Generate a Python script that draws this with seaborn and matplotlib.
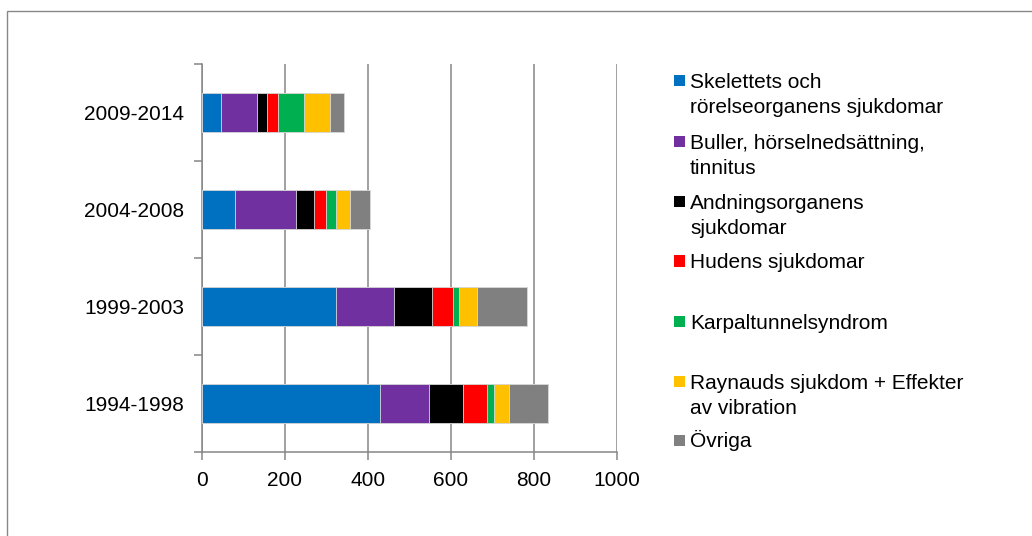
import matplotlib
matplotlib.use("Agg")
import matplotlib.pyplot as plt
import seaborn as sns
import numpy as np
import pandas as pd
from matplotlib.patches import Rectangle

periods = ["2009-2014", "2004-2008", "1999-2003", "1994-1998"]
series_names = [
    "Skelettets och\nrörelseorganens sjukdomar",
    "Buller, hörselnedsättning,\ntinnitus",
    "Andningsorganens\nsjukdomar",
    "Hudens sjukdomar",
    "Karpaltunnelsyndrom",
    "Raynauds sjukdom + Effekter\nav vibration",
    "Övriga",
]
skelett = [45, 79, 322, 430]
buller = [88, 147, 141, 117]
andning = [23, 43, 91, 81]
hud = [26, 29, 52, 58]
karpal = [63, 26, 14, 18]
raynaud = [63, 32, 42, 36]
ovriga = [33, 50, 121, 93]
series_values = [skelett, buller, andning, hud, karpal, raynaud, ovriga]
colors = ["#0070C0", "#7030A0", "#000000", "#FF0000", "#00B050", "#FFC000", "#808080"]
xticks = [0, 200, 400, 600, 800, 1000]

sns.set_theme(style="white")
plt.rcParams["font.family"] = ["Liberation Sans", "DejaVu Sans"]

W, H = 1032, 536
fig = plt.figure(figsize=(W / 100, H / 100), dpi=100)
ax = fig.add_axes([202 / W, 1 - 452 / H, (617 - 202) / W, (452 - 64) / H])

cum = np.cumsum(np.array(series_values, dtype=float), axis=0)
for i in range(len(series_values) - 1, -1, -1):
    df = pd.DataFrame({"period": periods, "value": cum[i]})
    sns.barplot(data=df, x="value", y="period", orient="h", color=colors[i],
                saturation=1, width=0.4, edgecolor="#d9d9d9", linewidth=0.6,
                ax=ax, zorder=3)

ax.set_xlim(0, 1000)
ax.set_ylim(3.5, -0.5)
ax.set_xticks(xticks)
ax.set_xticklabels([str(t) for t in xticks])
ax.set_xlabel("")
ax.set_ylabel("")
ax.xaxis.grid(True, color="#868686", linewidth=1.1, zorder=0)
ax.yaxis.grid(False)
ax.set_axisbelow(True)

for s in ["top", "right"]:
    ax.spines[s].set_visible(False)
for s in ["left", "bottom"]:
    ax.spines[s].set_visible(True)
    ax.spines[s].set_color("#868686")
    ax.spines[s].set_linewidth(1.1)

# y ticks: labels at category centers, tick marks at boundaries
ax.set_yticks(range(len(periods)))
ax.set_yticklabels(periods)
ax.set_yticks(np.arange(-0.5, len(periods), 1.0), minor=True)
ax.tick_params(axis="y", which="major", length=0, pad=13, labelsize=15, colors="black")
ax.tick_params(axis="y", which="minor", length=6, width=1.1, color="#868686", left=True)
ax.tick_params(axis="x", which="major", length=6, width=1.1, color="#868686",
               direction="out", bottom=True, pad=8, labelsize=15, labelcolor="black")

# legend drawn manually (marker aligned with first line, as in reference)
marker_y = [80.7, 141.7, 201.7, 261.0, 321.7, 381.7, 440.0]
line_step = 25.0
for name, col, my in zip(series_names, colors, marker_y):
    fig.patches.append(Rectangle((674 / W, 1 - (my + 5.5) / H), 11 / W, 11 / H,
                                 transform=fig.transFigure, facecolor=col,
                                 edgecolor="none", figure=fig))
    for k, line in enumerate(name.split("\n")):
        fig.text(690 / W, 1 - (my + 7 + k * line_step) / H, line, fontsize=15,
                 va="baseline", ha="left", color="black")

# outer chart frame
fig.patches.append(Rectangle((7 / W, -0.1), 1.2, (H - 11) / H + 0.1,
                             transform=fig.transFigure, facecolor="none",
                             edgecolor="#888888", linewidth=1.0, figure=fig))

fig.savefig("out.png", dpi=100, facecolor="white")
